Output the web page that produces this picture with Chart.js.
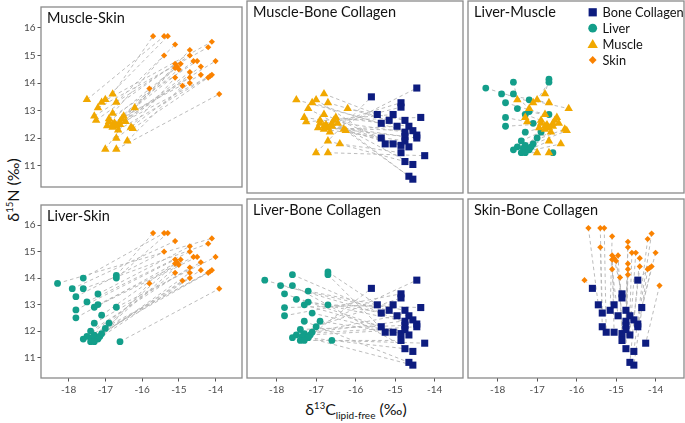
<!DOCTYPE html>
<html><head><meta charset="utf-8">
<script src="https://cdn.jsdelivr.net/npm/chart.js@4.4.0/dist/chart.umd.min.js"></script>
<style>
html,body{margin:0;padding:0;background:#fff;}
body{width:685px;height:423px;position:relative;overflow:hidden;font-family:Lato,"Open Sans",sans-serif;color:#111;}
canvas{position:absolute;}
.ttl{position:absolute;white-space:nowrap;font-size:16px;line-height:1;}
.ttl sup{font-size:9.5px;vertical-align:6px;}
.ttl sub{font-size:10px;vertical-align:-4px;}
</style></head><body>
<div class="ttl" id="ytitle" style="left:13px;top:190px;transform:translate(-50%,-50%) rotate(-90deg);">δ<sup>15</sup>N (‰)</div>
<div class="ttl" id="xtitle" style="left:356px;top:410px;transform:translate(-50%,-50%);">δ<sup>13</sup>C<sub>lipid-free</sub> (‰)</div>
<script>
// ---------- data ----------
const tissues = ["Bone Collagen","Liver","Muscle","Skin"];
const liverC = [-16.7,-17.6,-16.7,-18.3,-17.9,-17.6,-17.2,-17.8,-17.5,-17.2,-17.3,-16.7,-17.8,-17.1,-17.8,-17.3,-16.9,-17.0,-17.4,-17.1,-17.3,-17.5,-17.15,-17.35,-17.6,-17.2,-17.4,-17.3,-16.6];
const liverN = [14.1,14.0,14.0,13.8,13.6,13.6,13.4,13.3,13.1,13.0,12.9,12.9,12.8,12.6,12.5,12.3,12.3,12.1,12.0,11.9,11.85,11.8,11.8,11.75,11.7,11.7,11.6,11.6,11.6];
const muscleC = [-16.8,-17.5,-17.0,-17.1,-16.7,-17.2,-16.2,-16.8,-17.3,-16.5,-16.9,-16.55,-17.25,-16.9,-16.6,-16.45,-16.75,-16.8,-16.6,-16.95,-16.7,-16.3,-16.8,-16.25,-16.65,-16.7,-16.4,-17.0,-16.7];
const muscleN = [13.6,13.4,13.4,13.3,13.3,13.1,13.1,12.9,12.8,12.8,12.7,12.7,12.65,12.6,12.6,12.6,12.55,12.5,12.5,12.45,12.45,12.4,12.4,12.35,12.3,12.0,11.9,11.6,11.6];
const skinC = [-15.7,-15.4,-15.3,-14.1,-15.1,-14.2,-14.7,-15.4,-14.7,-14.6,-14.5,-14.0,-15.1,-14.95,-15.05,-14.4,-15.1,-15.0,-14.7,-14.4,-14.1,-15.1,-14.7,-14.2,-14.15,-14.7,-14.9,-15.8,-13.9];
const skinN = [15.7,15.7,15.7,15.5,15.4,15.3,15.2,15.0,15.0,14.8,14.8,14.8,14.7,14.7,14.6,14.6,14.55,14.5,14.4,14.3,14.3,14.2,14.2,14.2,14.25,14.0,13.9,13.8,13.6];
const boneC = [-15.45,-15.35,-15.25,-14.45,-15.15,-14.55,-14.75,-15.35,-14.75,-14.65,-14.65,-14.35,-15.05,-14.85,-14.85,-14.65,-15.05,-14.85,-14.75,-14.55,-14.45,-14.95,-14.75,-14.55,-14.45,-14.75,-14.85,-15.6,-14.25];
const boneN = [12.9,12.6,11.9,12.2,12.7,11.2,12.7,12.1,12.3,12.5,11.8,12.8,12.9,11.85,13.3,10.8,11.9,13.15,12.15,12.35,12.1,12.5,12.0,10.7,13.8,11.3,11.6,13.5,11.5];
const panelTitles = ["Muscle-Skin","Muscle-Bone Collagen","Liver-Muscle","Liver-Skin","Liver-Bone Collagen","Skin-Bone Collagen"];
const panelPairs = [["Muscle","Skin"],["Muscle","Bone Collagen"],["Liver","Muscle"],["Liver","Skin"],["Liver","Bone Collagen"],["Skin","Bone Collagen"]];
const xTicks = [-18,-17,-16,-15,-14];
const yTicks = [11,12,13,14,15,16];

// ---------- styling / layout ----------
const tissueData = {
  "Bone Collagen": {c: boneC, n: boneN},
  "Liver": {c: liverC, n: liverN},
  "Muscle": {c: muscleC, n: muscleN},
  "Skin": {c: skinC, n: skinN}
};
const style = {
  "Bone Collagen": {color:"#0d1c7f", pointStyle:"rect", r:5.0, lr:5.8, z:3},
  "Liver": {color:"#139e8a", pointStyle:"circle", r:3.4, lr:4.4, z:2},
  "Muscle": {color:"#f1a800", pointStyle:"triangle", r:4.9, lr:6.0, z:1},
  "Skin": {color:"#fa8200", pointStyle:"rectRot", r:3.1, lr:3.9, z:0}
};
const X_MIN=-18.75, X_MAX=-13.28, Y_MIN=10.23, Y_MAX=16.76;
const cols = [[41,242],[247,463],[468,684]];
const rows = [[1,193],[199,378]];
const FONT = 'Lato, "Open Sans", sans-serif';

function drawMarker(ctx, st, radius, x, y){
  ctx.save();
  ctx.fillStyle = st.color;
  if (Chart.helpers && Chart.helpers.drawPoint) {
    Chart.helpers.drawPoint(ctx, {pointStyle: st.pointStyle, radius: radius, rotation: 0, borderWidth: 0}, x, y);
  } else {
    ctx.beginPath(); ctx.arc(x,y,radius,0,Math.PI*2); ctx.fill();
  }
  ctx.restore();
}

panelTitles.forEach((title, p) => {
  const col = p % 3, row = Math.floor(p / 3);
  const [L, R] = cols[col], [T, B] = rows[row];
  const yTickOn = col === 0, xTickOn = row === 1;
  const padL = yTickOn ? 40 : 2, padR = 2, padT = 2, padB = xTickOn ? 22 : 2;
  const cv = document.createElement('canvas');
  const W = (R - L) + padL + padR, H = (B - T) + padT + padB;
  cv.width = W; cv.height = H;
  cv.style.left = (L - padL) + 'px'; cv.style.top = (T - padT) + 'px';
  cv.style.width = W + 'px'; cv.style.height = H + 'px';
  document.body.appendChild(cv);

  const [a, b] = panelPairs[p];
  const A = tissueData[a], Bd = tissueData[b];
  const datasets = [];
  for (let i = 0; i < A.c.length; i++) {
    datasets.push({
      type: 'line',
      data: [{x: A.c[i], y: A.n[i]}, {x: Bd.c[i], y: Bd.n[i]}],
      borderColor: '#b4b4b4', borderWidth: 0.9, borderDash: [3.5, 3],
      pointRadius: 0, fill: false, order: 10
    });
  }
  [a, b].forEach(t => {
    const st = style[t], d = tissueData[t];
    datasets.push({
      type: 'scatter', label: t,
      data: d.c.map((c, i) => ({x: c, y: d.n[i]})),
      backgroundColor: st.color, borderWidth: 0,
      pointStyle: st.pointStyle, pointRadius: st.r, pointHoverRadius: st.r,
      order: st.z
    });
  });

  const framePlugin = {
    id: 'frame' + p,
    afterDatasetsDraw(chart) {
      const ca = chart.chartArea, ctx = chart.ctx;
      ctx.save();
      ctx.strokeStyle = '#8a8a8a'; ctx.lineWidth = 1.3;
      ctx.strokeRect(ca.left, ca.top, ca.right - ca.left, ca.bottom - ca.top);
      ctx.fillStyle = '#111';
      ctx.font = '14.5px ' + FONT;
      ctx.textBaseline = 'alphabetic';
      ctx.fillText(title, ca.left + 6, ca.top + 15.5);
      if (p === 2) {
        const mx = 126.7, tx = 136.5;
        tissues.forEach((t, k) => {
          const yy = 13.3 + k * 15.9;
          drawMarker(ctx, style[t], style[t].lr, mx, yy + (t === 'Muscle' ? 1 : 0));
          ctx.fillStyle = '#111';
          ctx.font = '12.8px ' + FONT;
          ctx.textBaseline = 'middle';
          ctx.fillText(t, tx, yy + 0.5);
        });
      }
      ctx.restore();
    }
  };

  new Chart(cv, {
    type: 'scatter',
    data: {datasets},
    options: {
      responsive: false, animation: false, devicePixelRatio: 1,
      layout: {autoPadding: false, padding: {left: 0, right: padR, top: padT, bottom: 0}},
      plugins: {legend: {display: false}, tooltip: {enabled: false}, title: {display: false}},
      scales: {
        x: {
          type: 'linear', min: X_MIN, max: X_MAX, position: 'bottom',
          afterBuildTicks: s => { s.ticks = xTicks.map(v => ({value: v})); },
          afterFit: s => { s.height = padB; },
          border: {display: false},
          grid: {display: xTickOn, drawOnChartArea: false, drawTicks: true, tickLength: 3.5, color: '#555', lineWidth: 1},
          ticks: {display: xTickOn, color: '#4d4d4d', font: {family: FONT, size: 10}, padding: 2, maxRotation: 0, autoSkip: false,
                  callback: v => String(v)}
        },
        y: {
          type: 'linear', min: Y_MIN, max: Y_MAX, position: 'left',
          afterBuildTicks: s => { s.ticks = yTicks.map(v => ({value: v})); },
          afterFit: s => { s.width = padL; },
          border: {display: false},
          grid: {display: yTickOn, drawOnChartArea: false, drawTicks: true, tickLength: 3.5, color: '#555', lineWidth: 1},
          ticks: {display: yTickOn, color: '#4d4d4d', font: {family: FONT, size: 10}, padding: 2, autoSkip: false,
                  callback: v => String(v)}
        }
      }
    },
    plugins: [framePlugin]
  });
});
</script>
</body></html>
